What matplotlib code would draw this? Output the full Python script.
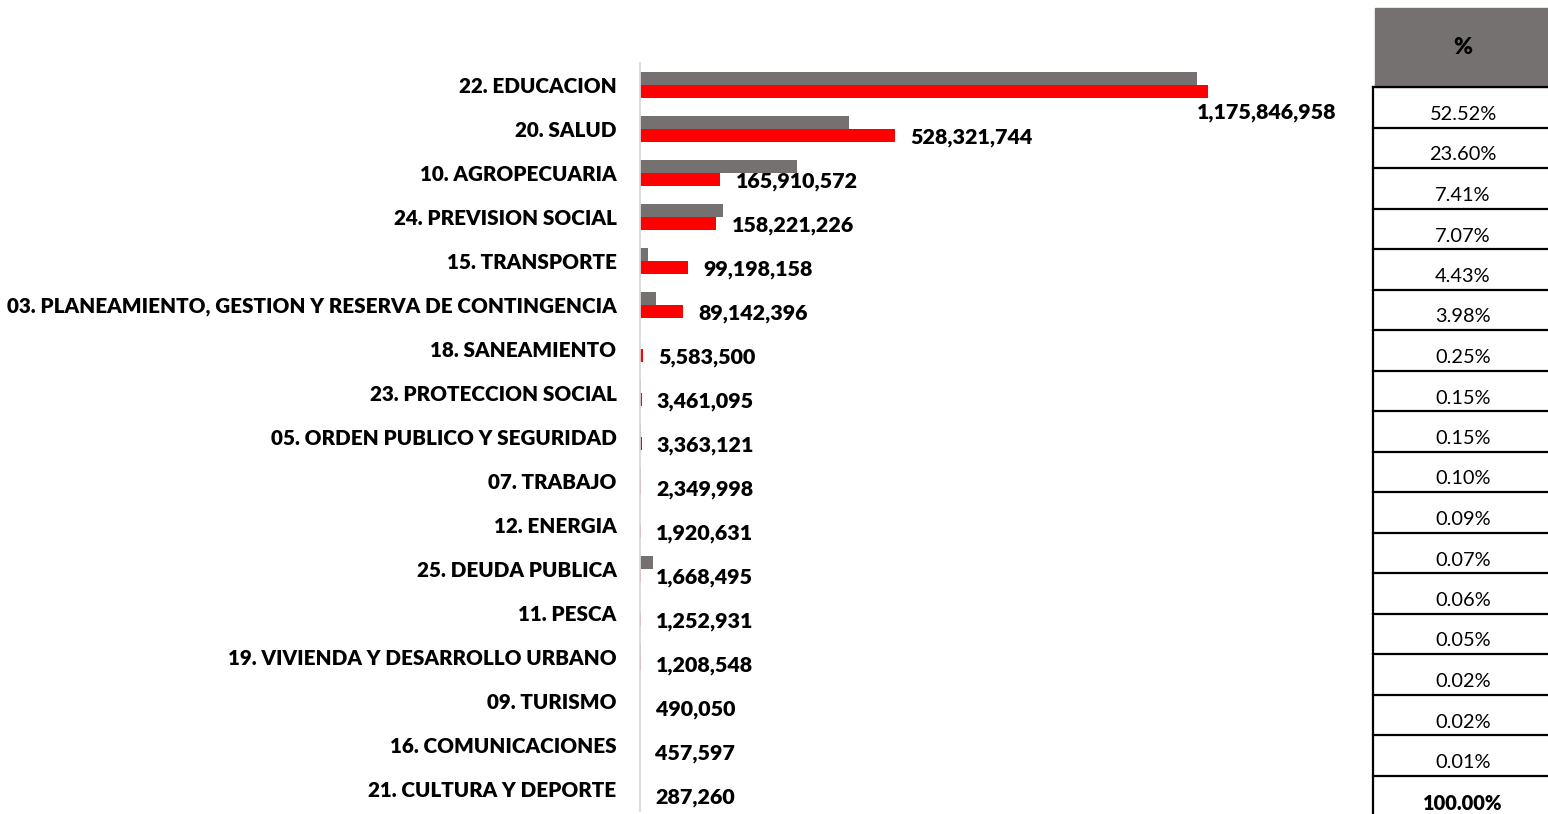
import matplotlib
matplotlib.use("Agg")
import matplotlib.pyplot as plt
from matplotlib.patches import Rectangle
from matplotlib.lines import Line2D

plt.rcParams['font.family'] = ['Lato', 'DejaVu Sans']

categories = [
    "22. EDUCACION", "20. SALUD", "10. AGROPECUARIA", "24. PREVISION SOCIAL",
    "15. TRANSPORTE", "03. PLANEAMIENTO, GESTION Y RESERVA DE CONTINGENCIA",
    "18. SANEAMIENTO", "23. PROTECCION SOCIAL", "05. ORDEN PUBLICO Y SEGURIDAD",
    "07. TRABAJO", "12. ENERGIA", "25. DEUDA PUBLICA", "11. PESCA",
    "19. VIVIENDA Y DESARROLLO URBANO", "09. TURISMO", "16. COMUNICACIONES",
    "21. CULTURA Y DEPORTE",
]
red_values = [1175846958, 528321744, 165910572, 158221226, 99198158, 89142396,
              5583500, 3461095, 3363121, 2349998, 1920631, 1668495, 1252931,
              1208548, 490050, 457597, 287260]
grey_values = [1152e6, 433e6, 324e6, 172e6, 16.5e6, 32.5e6,
               0.4e6, 1.8e6, 1.8e6, 1.6e6, 0.6e6, 26e6, 0.8e6,
               1.2e6, 0.6e6, 0.6e6, 0.5e6]
pct_header = "%"
pct_labels = ["52.52%", "23.60%", "7.41%", "7.07%", "4.43%", "3.98%", "0.25%",
              "0.15%", "0.15%", "0.10%", "0.09%", "0.07%", "0.06%", "0.05%",
              "0.02%", "0.02%", "0.01%"]
total_label = "100.00%"

W, H = 1548, 814
fig = plt.figure(figsize=(W / 100, H / 100), dpi=100)

GREY = "#767171"
RED = "#FF0000"
FS_CAT = 14.9
FS_VAL = 15.4
FS_TAB = 14.4
WEIGHT = "heavy"

# main bar axes (pixel layout -> figure fraction)
ax_left, ax_right = 640, 1340
ax_top, ax_bottom = 63, 811
ax = fig.add_axes([ax_left / W, 1 - ax_bottom / H, (ax_right - ax_left) / W,
                   (ax_bottom - ax_top) / H])
n = len(categories)
y = list(range(n))
bh = 0.285
ax.barh([v - bh / 2 for v in y], grey_values, height=bh, color=GREY, zorder=2)
ax.barh([v + bh / 2 for v in y], red_values, height=bh, color=RED, zorder=2)
px_per_unit = 568.3 / 1175846958
ax.set_xlim(0, (ax_right - ax_left) / px_per_unit)
ax.set_ylim(n - 0.5, -0.5)
for s in ["top", "right", "bottom"]:
    ax.spines[s].set_visible(False)
ax.spines["left"].set_color("#D9D9D9")
ax.spines["left"].set_linewidth(1.3)
ax.set_xticks([])
ax.set_yticks(y)
ax.set_yticklabels(categories, fontsize=FS_CAT, fontweight=WEIGHT)
ax.tick_params(axis="y", length=0, pad=17)
for lbl in ax.get_yticklabels():
    lbl.set_va("center_baseline")

for i, v in enumerate(red_values):
    txt = f"{v:,}"
    if i == 0:
        ax.annotate(txt, (v, i + bh / 2), xytext=(-8, -15), textcoords="offset points",
                    ha="left", va="center", fontsize=FS_VAL, fontweight=WEIGHT)
    else:
        ax.annotate(txt, (v, i + bh / 2), xytext=(11, -1.5), textcoords="offset points",
                    ha="left", va="center", fontsize=FS_VAL, fontweight=WEIGHT)

# table on the right drawn in pixel coordinates
tax = fig.add_axes([0, 0, 1, 1])
tax.set_xlim(0, W)
tax.set_ylim(H, 0)
tax.axis("off")
tx0, tx1 = 1373, W
tax.add_patch(Rectangle((1375, 8), W - 1375, 79, color=GREY, zorder=1))
tax.text(1463, 48, pct_header, ha="center", va="center", fontsize=FS_TAB + 2,
         fontweight=WEIGHT, color="black")
row_top = 87
row_h = 40.5
rows = pct_labels + [total_label]
for k, lab in enumerate(rows):
    yt = row_top + k * row_h
    tax.add_line(Line2D([tx0, tx1], [yt, yt], color="black", lw=1.6, zorder=3))
    tax.text(1463, yt + 27.5, lab, ha="center", va="center", fontsize=FS_TAB,
             fontweight=WEIGHT if k == len(rows) - 1 else "normal", color="black")
tax.add_line(Line2D([tx0, tx0], [row_top, H], color="black", lw=1.6, zorder=3))

fig.savefig("out.png", dpi=100, facecolor="white")
